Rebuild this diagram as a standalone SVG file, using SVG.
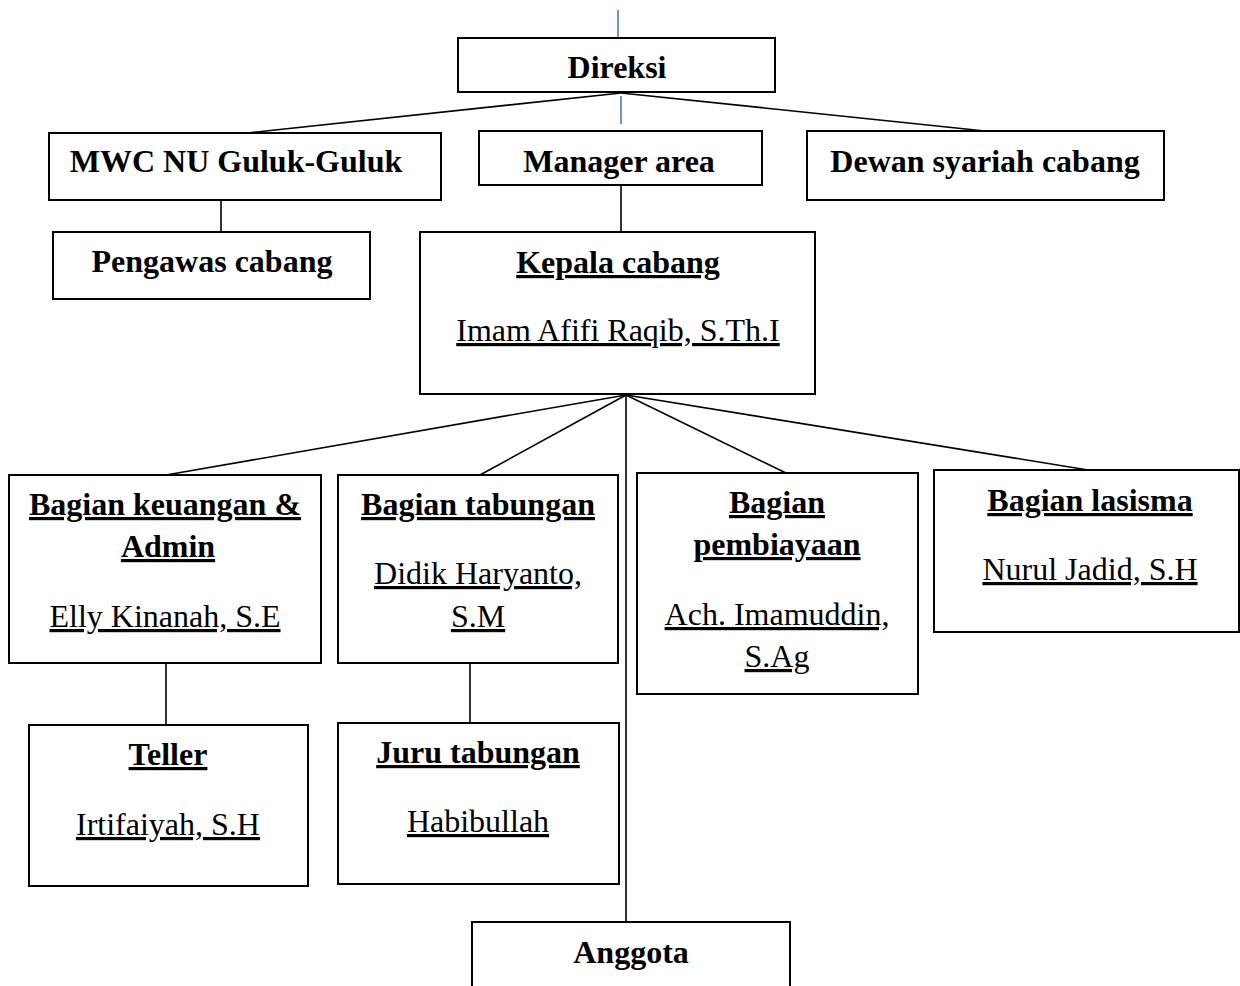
<svg xmlns="http://www.w3.org/2000/svg" width="1240" height="986" viewBox="0 0 1240 986">
<style>
.box{fill:#fff;stroke:#000;stroke-width:2}
.c{stroke:#000;stroke-width:1.6;fill:none}
.b{stroke:#4a7ebb;stroke-width:1.6;fill:none}
text{font-family:"Liberation Serif","Times New Roman",serif;font-size:32px;text-anchor:middle;fill:#000}
.h{font-weight:bold}
.u{text-decoration:underline}
</style>
<rect width="1240" height="986" fill="#fff"/>
<g id="connectors">
<line class="b" x1="618" y1="10" x2="618" y2="38"/>
<line class="b" x1="621" y1="96" x2="621" y2="124"/>
<line class="c" x1="621" y1="93" x2="247" y2="133"/>
<line class="c" x1="621" y1="93" x2="985" y2="131"/>
<line class="c" x1="221" y1="200" x2="221" y2="232"/>
<line class="c" x1="621" y1="185" x2="621" y2="232"/>
<line class="c" x1="626" y1="395" x2="166" y2="475"/>
<line class="c" x1="626" y1="395" x2="480" y2="475"/>
<line class="c" x1="626" y1="395" x2="626" y2="922"/>
<line class="c" x1="626" y1="395" x2="786" y2="473"/>
<line class="c" x1="626" y1="395" x2="1088" y2="470"/>
<line class="c" x1="166" y1="663" x2="166" y2="725"/>
<line class="c" x1="470" y1="663" x2="470" y2="723"/>
</g>
<g id="direksi"><rect class="box" x="458" y="38" width="317" height="54"/><text class="h" x="617" y="78">Direksi</text></g>
<g id="mwc"><rect class="box" x="49" y="133" width="392" height="67"/><text class="h" x="236" y="172">MWC NU Guluk-Guluk</text></g>
<g id="manager"><rect class="box" x="479" y="131" width="283" height="54"/><text class="h" x="619" y="172">Manager area</text></g>
<g id="dewan"><rect class="box" x="807" y="131" width="357" height="69"/><text class="h" x="985" y="172">Dewan syariah cabang</text></g>
<g id="pengawas"><rect class="box" x="53" y="232" width="317" height="67"/><text class="h" x="212" y="272">Pengawas cabang</text></g>
<g id="kepala"><rect class="box" x="420" y="232" width="395" height="162"/><text class="h u" x="618" y="273">Kepala cabang</text><text class="u" x="618" y="341">Imam Afifi Raqib, S.Th.I</text></g>
<g id="keuangan"><rect class="box" x="9" y="475" width="312" height="188"/><text class="h u" x="165" y="515">Bagian keuangan &amp;</text><text class="h u" x="168" y="557">Admin</text><text class="u" x="165" y="627">Elly Kinanah, S.E</text></g>
<g id="tabungan"><rect class="box" x="338" y="475" width="280" height="188"/><text class="h u" x="478" y="515">Bagian tabungan</text><text class="u" x="478" y="584">Didik Haryanto,</text><text class="u" x="478" y="627">S.M</text></g>
<g id="pembiayaan"><rect class="box" x="637" y="473" width="281" height="221"/><text class="h u" x="777" y="513">Bagian</text><text class="h u" x="777" y="555">pembiayaan</text><text class="u" x="777" y="625">Ach. Imamuddin,</text><text class="u" x="777" y="667">S.Ag</text></g>
<g id="lasisma"><rect class="box" x="934" y="470" width="305" height="162"/><text class="h u" x="1090" y="511">Bagian lasisma</text><text class="u" x="1090" y="580">Nurul Jadid, S.H</text></g>
<g id="teller"><rect class="box" x="29" y="725" width="279" height="161"/><text class="h u" x="168" y="765">Teller</text><text class="u" x="168" y="835">Irtifaiyah, S.H</text></g>
<g id="juru"><rect class="box" x="338" y="723" width="281" height="161"/><text class="h u" x="478" y="763">Juru tabungan</text><text class="u" x="478" y="832">Habibullah</text></g>
<g id="anggota"><rect class="box" x="472" y="922" width="318" height="80"/><text class="h" x="631" y="963">Anggota</text></g>
</svg>
